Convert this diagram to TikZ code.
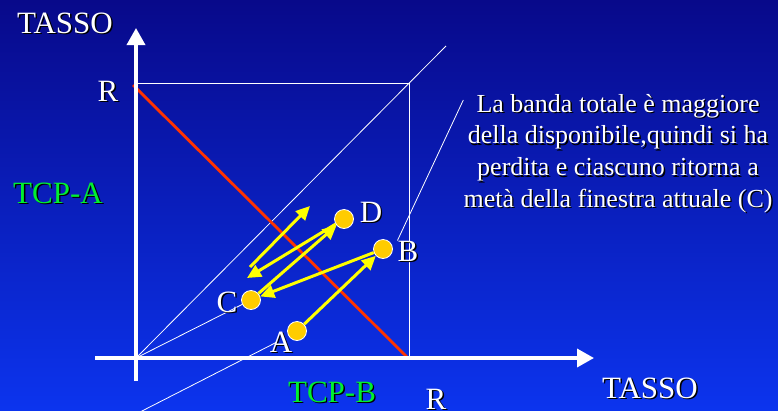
\documentclass[tikz,border=0pt]{standalone}
\usepackage{fontspec}
\setmainfont{Liberation Serif}
\usepackage{xcolor}
\usepackage{tikz}
\usetikzlibrary{arrows.meta}
\definecolor{kbgtop}{HTML}{08098A}
\definecolor{kbgbot}{HTML}{0C34EE}
\definecolor{kred}{HTML}{FF3300}
\definecolor{kgreen}{HTML}{00F030}
\definecolor{kgold}{HTML}{FFCC00}
\definecolor{kyellow}{HTML}{FFFF00}
\newcommand{\shd}[1]{\leavevmode\rlap{\kern1.4pt\raisebox{-1.4pt}{\color{black}#1}}#1}

\begin{document}
\begin{tikzpicture}[x=1pt, y=-1pt,
  lbl/.style={font=\fontsize{31}{36}\selectfont, text=white, inner sep=0pt, anchor=base},
  dot/.style={circle, fill=kgold, draw=white, line width=0.8pt, minimum size=19pt, inner sep=0pt},
  yarrow/.style={kyellow, line width=3pt, -{Triangle[length=14pt,width=13pt]}},
  axis/.style={white, line width=3.5pt, -{Triangle[length=17pt,width=18pt]}},
  guide/.style={white, line width=0.8pt}]
\shade[top color=kbgtop, bottom color=kbgbot] (0,0) rectangle (778,410);
\useasboundingbox (0,0) rectangle (778,410);
\coordinate (O) at (136,358);
\coordinate (diagEnd) at (446,46);
\coordinate (tailA) at (140,412);
\coordinate (headA) at (277,342);
\coordinate (redTop) at (133,85);
\coordinate (redBot) at (407,357);
\coordinate (back) at (247,278);
\coordinate (fwd0) at (250,267);
\coordinate (fwd1) at (310,206);
\node[dot] (A) at (297,331) {};
\node[dot] (B) at (383,249) {};
\node[dot] (C) at (251,300) {};
\node[dot] (D) at (344,219) {};
\draw[guide] (O) rectangle (409,83);
\draw[guide] (O) -- (diagEnd);
\draw[guide] (O) -- (C);
\draw[guide] (tailA) -- (headA);
\draw[kred, line width=2.8pt] (redTop) -- (redBot);
\draw[axis] (95,358) -- (594,358);
\draw[axis] (136,381) -- (136,28);
\draw[yarrow] (A) -- (B);
\draw[yarrow] (B) -- (C);
\draw[yarrow] (C) -- (D);
\draw[yarrow] (D) -- (back);
\draw[yarrow] (fwd0) -- (fwd1);
\node[lbl] (tassoY) at (65,33) {\shd{TASSO}};
\node[lbl] (tassoX) at (650,398) {\shd{TASSO}};
\node[lbl] (rY) at (108,101) {\shd{R}};
\node[lbl] (rX) at (436,409) {\shd{R}};
\node[lbl, text=kgreen] (tcpA) at (58,203) {\shd{TCP-A}};
\node[lbl, text=kgreen] (tcpB) at (332,402) {\shd{TCP-B}};
\node[lbl] (lA) at (281,352) {\shd{A}};
\node[lbl] (lB) at (408,261) {\shd{B}};
\node[lbl] (lC) at (227,312) {\shd{C}};
\node[lbl] (lD) at (371,222) {\shd{D}};
\node[font=\fontsize{26}{31.7}\selectfont, text=white, align=center, inner sep=0pt, anchor=north]
  (note) at (618,94) {\shd{La banda totale è maggiore}\\\shd{della disponibile,quindi si ha}\\\shd{perdita e ciascuno ritorna a}\\\shd{metà della finestra attuale (C)}};
\draw[guide] ([yshift=-6pt]note.north west) -- (lB.north west);
\end{tikzpicture}
\end{document}
